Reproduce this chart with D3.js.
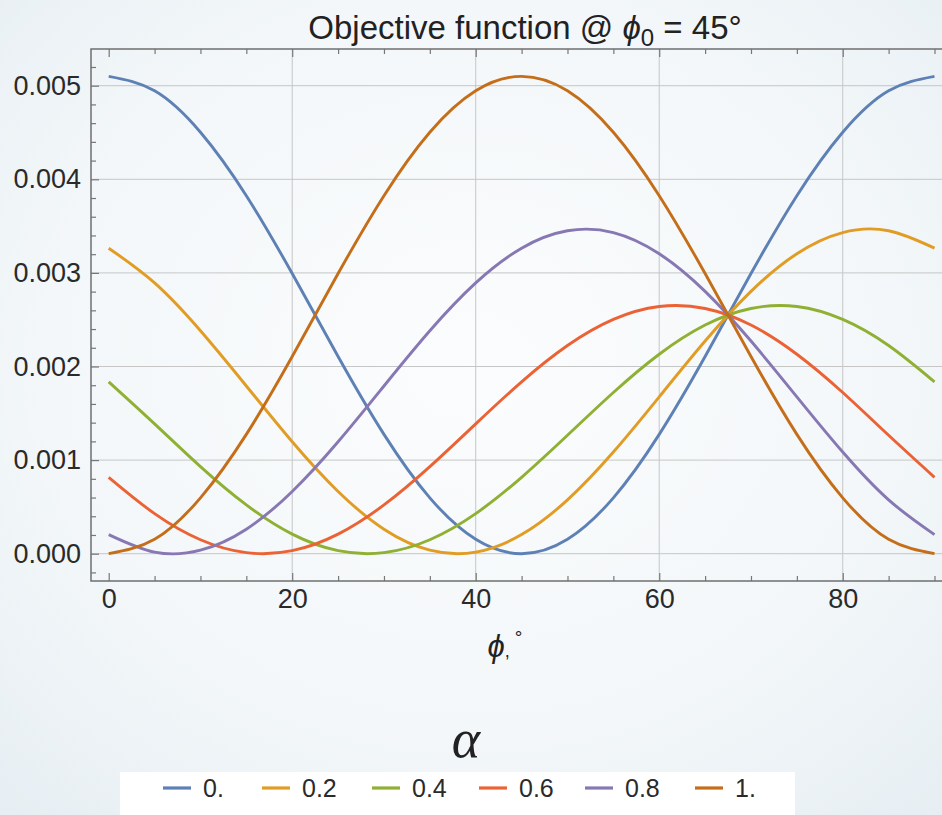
<!DOCTYPE html>
<html>
<head>
<meta charset="utf-8">
<script src="https://cdn.jsdelivr.net/npm/d3@7"></script>
<style>
  html, body { margin: 0; padding: 0; }
  body { width: 942px; height: 815px; overflow: hidden; }
  svg { display: block; }
</style>
</head>
<body>
<svg id="chart" width="942" height="815"></svg>
<script>
// ---- data ----
const phiValues = [0, 5, 10, 15, 20, 25, 30, 35, 40, 45, 50, 55, 60, 65, 70, 75, 80, 85, 90];
const alphaLabels = ["0.", "0.2", "0.4", "0.6", "0.8", "1."];
const seriesA00 = [0.005100, 0.004946, 0.004503, 0.003825, 0.002993, 0.002107, 0.001275, 0.000597, 0.000154, 0.000000, 0.000154, 0.000597, 0.001275, 0.002107, 0.002993, 0.003825, 0.004503, 0.004946, 0.005100];
const seriesA02 = [0.003264, 0.002893, 0.002382, 0.001792, 0.001196, 0.000665, 0.000262, 0.0000375, 0.0000172, 0.000204, 0.000575, 0.001086, 0.001676, 0.002272, 0.002803, 0.003205, 0.003431, 0.003450, 0.003264];
const seriesA04 = [0.001836, 0.001387, 0.000930, 0.000521, 0.000209, 0.0000321, 0.0000110, 0.000149, 0.000428, 0.000816, 0.001265, 0.001722, 0.002131, 0.002443, 0.002620, 0.002641, 0.002503, 0.002224, 0.001836];
const seriesA06 = [0.000816, 0.000428, 0.000149, 0.0000110, 0.0000321, 0.000209, 0.000521, 0.000930, 0.001387, 0.001836, 0.002224, 0.002503, 0.002641, 0.002620, 0.002443, 0.002131, 0.001722, 0.001265, 0.000816];
const seriesA08 = [0.000204, 0.0000172, 0.0000375, 0.000262, 0.000665, 0.001196, 0.001792, 0.002382, 0.002893, 0.003264, 0.003450, 0.003431, 0.003205, 0.002803, 0.002272, 0.001676, 0.001086, 0.000575, 0.000204];
const seriesA10 = [0.000000, 0.000154, 0.000597, 0.001275, 0.002107, 0.002993, 0.003825, 0.004503, 0.004946, 0.005100, 0.004946, 0.004503, 0.003825, 0.002993, 0.002107, 0.001275, 0.000597, 0.000154, 0.000000];
const yMajorTicks = [0, 0.001, 0.002, 0.003, 0.004, 0.005];
const yTickLabels = ["0.000", "0.001", "0.002", "0.003", "0.004", "0.005"];
const xMajorTicks = [0, 20, 40, 60, 80];
const xTickLabels = ["0", "20", "40", "60", "80"];
const titleText = "Objective function @ ";
const xAxisLabel = "ϕ";

const allSeries = [seriesA00, seriesA02, seriesA04, seriesA06, seriesA08, seriesA10];
const colors = ["#5e81b5", "#e19c24", "#8fb032", "#eb6235", "#8778b3", "#c56e1a"];

// ---- layout ----
const frame = { left: 91, right: 960, top: 49, bottom: 581 };
const x = d3.scaleLinear().domain([0, 90]).range([108.7, 934.5]);
const y = d3.scaleLinear().domain([0, 0.005]).range([553.7, 85.7]);

const svg = d3.select("#chart");

// background
const defs = svg.append("defs");
const grad = defs.append("radialGradient").attr("id", "bg")
  .attr("cx", "50%").attr("cy", "45%").attr("r", "75%");
grad.append("stop").attr("offset", "0%").attr("stop-color", "#fbfcfd");
grad.append("stop").attr("offset", "60%").attr("stop-color", "#f3f7f9");
grad.append("stop").attr("offset", "100%").attr("stop-color", "#e6eef3");
svg.append("rect").attr("width", 942).attr("height", 815).attr("fill", "url(#bg)");

// gridlines
const grid = svg.append("g").attr("stroke", "#c6c6c6").attr("stroke-width", 1);
grid.selectAll("line.h").data(yMajorTicks).join("line")
  .attr("x1", frame.left).attr("x2", frame.right)
  .attr("y1", d => y(d)).attr("y2", d => y(d));
grid.selectAll("line.v").data(xMajorTicks.filter(d => d !== 0)).join("line")
  .attr("y1", frame.top).attr("y2", frame.bottom)
  .attr("x1", d => x(d)).attr("x2", d => x(d));

// axes
const tickFont = "Liberation Sans, Arial, sans-serif";
const yMinor = d3.range(-0.0002, 0.00521, 0.0002).filter(v => Math.abs(Math.round(v * 1000) - v * 1000) > 1e-6);
const xMinor = d3.range(0, 90.1, 5).filter(v => v % 20 !== 0);

function styleAxis(g) {
  g.select(".domain").remove();
  g.selectAll(".tick line").attr("stroke", "#777").attr("stroke-width", 1.2);
  g.selectAll(".tick text").attr("fill", "#2a2a2a")
    .style("font-family", tickFont).style("font-size", "27px");
}

svg.append("g").attr("transform", `translate(${frame.left},0)`)
  .call(d3.axisLeft(y).tickValues(yMajorTicks).tickFormat((d, i) => yTickLabels[i])
    .tickSizeInner(-8).tickSizeOuter(0).tickPadding(10))
  .call(styleAxis);
svg.append("g").attr("transform", `translate(${frame.left},0)`)
  .call(d3.axisLeft(y).tickValues(yMinor).tickFormat("").tickSizeInner(-5).tickSizeOuter(0))
  .call(styleAxis);

svg.append("g").attr("transform", `translate(0,${frame.bottom})`)
  .call(d3.axisBottom(x).tickValues(xMajorTicks).tickFormat((d, i) => xTickLabels[i])
    .tickSizeInner(-8).tickSizeOuter(0).tickPadding(8))
  .call(styleAxis);
svg.append("g").attr("transform", `translate(0,${frame.bottom})`)
  .call(d3.axisBottom(x).tickValues(xMinor).tickFormat("").tickSizeInner(-5).tickSizeOuter(0))
  .call(styleAxis);

svg.append("g").attr("transform", `translate(0,${frame.top})`)
  .call(d3.axisTop(x).tickValues(xMajorTicks).tickFormat("").tickSizeInner(-8).tickSizeOuter(0))
  .call(styleAxis);
svg.append("g").attr("transform", `translate(0,${frame.top})`)
  .call(d3.axisTop(x).tickValues(xMinor).tickFormat("").tickSizeInner(-5).tickSizeOuter(0))
  .call(styleAxis);

// frame
svg.append("path")
  .attr("d", `M${frame.right},${frame.top}H${frame.left}V${frame.bottom}H${frame.right}`)
  .attr("fill", "none").attr("stroke", "#6f6f6f").attr("stroke-width", 1.5);

// curves
const line = d3.line().x(d => x(d[0])).y(d => y(d[1])).curve(d3.curveNatural);
svg.append("g").selectAll("path").data(allSeries).join("path")
  .attr("d", s => line(s.map((v, i) => [phiValues[i], v])))
  .attr("fill", "none")
  .attr("stroke", (s, i) => colors[i])
  .attr("stroke-width", 2.9)
  .attr("stroke-linejoin", "round");

// title
const title = svg.append("text").attr("x", 525).attr("y", 39).attr("text-anchor", "middle")
  .attr("fill", "#222").style("font-family", tickFont).style("font-size", "33px");
title.append("tspan").text(titleText);
title.append("tspan").style("font-style", "italic").text("ϕ");
title.append("tspan").attr("dy", 7).style("font-size", "24px").text("0");
title.append("tspan").attr("dy", -7).text(" = 45°");

// x axis label
const xl = svg.append("text").attr("x", 505).attr("y", 657).attr("text-anchor", "middle")
  .attr("fill", "#222").style("font-family", tickFont);
xl.append("tspan").style("font-style", "italic").style("font-size", "31px").text(xAxisLabel);
xl.append("tspan").style("font-size", "18px").text(",");
xl.append("tspan").attr("dx", 5).attr("dy", -13).style("font-size", "19px").text("°");

// legend
svg.append("text").attr("x", 466).attr("y", 757).attr("text-anchor", "middle")
  .attr("fill", "#222").style("font-family", "Liberation Serif, 'DejaVu Serif', serif")
  .style("font-style", "italic").style("font-size", "54px").text("α");

svg.append("rect").attr("x", 120).attr("y", 772).attr("width", 675).attr("height", 43).attr("fill", "#ffffff");

const legendX = [163, 262, 372, 479, 585, 695];
const lg = svg.append("g").selectAll("g").data(alphaLabels).join("g")
  .attr("transform", (d, i) => `translate(${legendX[i]},788)`);
lg.append("line").attr("x1", 0).attr("x2", 28).attr("y1", 0).attr("y2", 0)
  .attr("stroke", (d, i) => colors[i]).attr("stroke-width", 3.2);
lg.append("text").attr("x", 40).attr("y", 0).attr("dy", "0.36em")
  .attr("fill", "#2a2a2a").style("font-family", tickFont).style("font-size", "25px")
  .text(d => d);
</script>
</body>
</html>
